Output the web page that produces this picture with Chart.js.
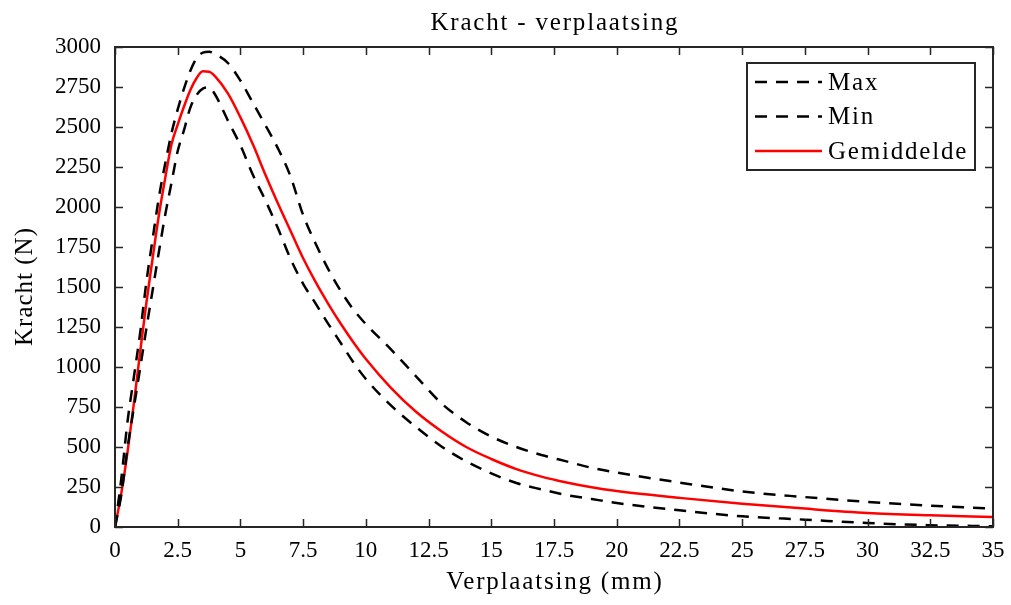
<!DOCTYPE html>
<html lang="nl">
<head>
    <meta charset="UTF-8">
    <title>Kracht - verplaatsing</title>
    <script src="https://cdn.jsdelivr.net/npm/chart.js"></script>
    <style>
        html, body { margin: 0; padding: 0; background: #fff; }
        #wrap { width: 1011px; height: 605px; }
    </style>
</head>
<body>
    <div id="wrap"><canvas id="grafiek"></canvas></div>

    <script>
// Verplaatsing (mm) en gemeten kracht (N)
const verplaatsing = [0, 0.25, 0.5, 0.75, 1, 1.25, 1.5, 1.75, 2, 2.25, 2.5, 2.75, 3, 3.25, 3.5, 3.75, 4, 4.5, 5, 5.5, 6, 6.5, 7, 7.5, 8, 8.5, 9, 9.5, 10, 11, 12, 13, 14, 15, 16, 17, 18, 19, 20, 22.5, 25, 27.5, 30, 32.5, 35];
const krachtMax = [0, 300, 660, 935, 1210, 1530, 1800, 2060, 2270, 2460, 2610, 2740, 2850, 2930, 2965, 2970, 2955, 2900, 2790, 2650, 2510, 2365, 2190, 1950, 1770, 1612, 1475, 1360, 1268, 1110, 942, 775, 655, 565, 500, 450, 410, 370, 340, 278, 222, 187, 157, 133, 115];
const krachtMin = [0, 200, 495, 745, 990, 1240, 1480, 1720, 1950, 2150, 2350, 2480, 2620, 2700, 2740, 2748, 2700, 2540, 2385, 2200, 2040, 1865, 1675, 1520, 1396, 1270, 1150, 1030, 925, 760, 625, 505, 410, 335, 275, 235, 200, 175, 150, 104, 67, 46, 25, 11, 5];
const krachtGem = [0, 210, 470, 770, 1090, 1400, 1680, 1950, 2180, 2390, 2515, 2628, 2730, 2805, 2848, 2846, 2815, 2710, 2560, 2390, 2200, 2020, 1850, 1680, 1530, 1395, 1270, 1155, 1050, 870, 720, 600, 500, 425, 362, 315, 278, 248, 225, 182, 146, 115, 88, 73, 62];

const xTicks = [0, 2.5, 5, 7.5, 10, 12.5, 15, 17.5, 20, 22.5, 25, 27.5, 30, 32.5, 35];
const yTicks = [0, 250, 500, 750, 1000, 1250, 1500, 1750, 2000, 2250, 2500, 2750, 3000];

const LETTER = '"Liberation Serif", "DejaVu Serif", serif';
const AS = '#262626';

function punten(ys) {
    return verplaatsing.map((x, i) => ({ x: x, y: ys[i] }));
}

// tekst met wat extra letterafstand
function tekst(ctx, s, x, y, px, spacing, hoek) {
    ctx.save();
    ctx.translate(x, y);
    if (hoek) ctx.rotate(hoek);
    ctx.font = px + 'px ' + LETTER;
    ctx.letterSpacing = spacing + 'px';
    ctx.fillStyle = '#000';
    ctx.textAlign = 'center';
    ctx.textBaseline = 'middle';
    ctx.fillText(s, spacing / 2, 0);
    ctx.restore();
}

// kader om het assenstelsel met naar binnen gerichte streepjes
const kaderPlugin = {
    id: 'kader',
    afterDatasetsDraw(chart) {
        const { ctx, chartArea: a, scales: { x, y } } = chart;
        ctx.save();
        ctx.strokeStyle = AS;
        ctx.lineWidth = 1.5;
        ctx.beginPath();
        x.ticks.forEach(t => {
            const px = Math.round(x.getPixelForValue(t.value)) + 0.5;
            ctx.moveTo(px, a.bottom); ctx.lineTo(px, a.bottom - 8);
            ctx.moveTo(px, a.top); ctx.lineTo(px, a.top + 8);
        });
        y.ticks.forEach(t => {
            const py = Math.round(y.getPixelForValue(t.value)) + 0.5;
            ctx.moveTo(a.left, py); ctx.lineTo(a.left + 8, py);
            ctx.moveTo(a.right, py); ctx.lineTo(a.right - 8, py);
        });
        ctx.stroke();
        ctx.lineWidth = 2;
        ctx.strokeRect(a.left, a.top, a.right - a.left, a.bottom - a.top);
        ctx.restore();
    }
};

// titel, astitels en legenda
const tekstPlugin = {
    id: 'teksten',
    afterDraw(chart) {
        const { ctx, chartArea: a } = chart;
        tekst(ctx, 'Kracht - verplaatsing', (a.left + a.right) / 2, 23, 25, 1.8);
        tekst(ctx, 'Verplaatsing (mm)', (a.left + a.right) / 2, 582, 25, 1.8);
        tekst(ctx, 'Kracht (N)', 25, (a.top + a.bottom) / 2, 25, 1, -Math.PI / 2);

        const bx = 747, by = 63, bw = 228, bh = 107;
        ctx.save();
        ctx.fillStyle = '#fff';
        ctx.fillRect(bx, by, bw, bh);
        ctx.strokeStyle = AS;
        ctx.lineWidth = 2;
        ctx.strokeRect(bx, by, bw, bh);
        ctx.font = '25px ' + LETTER;
        ctx.letterSpacing = '1.8px';
        ctx.textBaseline = 'middle';
        chart.data.datasets.forEach((ds, i) => {
            const ly = by + 19 + i * 34.5;
            ctx.beginPath();
            ctx.strokeStyle = ds.borderColor;
            ctx.lineWidth = ds.borderWidth;
            ctx.setLineDash(ds.borderDash || []);
            ctx.moveTo(bx + 8, ly);
            ctx.lineTo(bx + 75, ly);
            ctx.stroke();
            ctx.setLineDash([]);
            ctx.fillStyle = '#000';
            ctx.fillText(ds.label, bx + 81, ly + 1);
        });
        ctx.restore();
    }
};

new Chart(document.getElementById('grafiek'), {
    type: 'line',
    data: {
        datasets: [
            { label: 'Max', data: punten(krachtMax), borderColor: '#000', borderWidth: 2.5, borderDash: [12, 9] },
            { label: 'Min', data: punten(krachtMin), borderColor: '#000', borderWidth: 2.5, borderDash: [12, 9] },
            { label: 'Gemiddelde', data: punten(krachtGem), borderColor: '#ff0000', borderWidth: 2.5 }
        ]
    },
    options: {
        responsive: true,
        maintainAspectRatio: false,
        animation: false,
        layout: { padding: { left: 0, right: 18, top: 47, bottom: 0 } },
        elements: {
            point: { radius: 0 },
            line: { cubicInterpolationMode: 'monotone', fill: false }
        },
        plugins: {
            legend: { display: false },
            tooltip: { enabled: false },
            title: { display: false }
        },
        scales: {
            x: {
                type: 'linear',
                min: 0,
                max: 35,
                afterBuildTicks: s => { s.ticks = xTicks.map(v => ({ value: v })); },
                afterFit: s => { s.height = 78; },
                grid: { display: false },
                border: { display: false },
                ticks: {
                    color: '#000',
                    padding: 2,
                    maxRotation: 0,
                    font: { family: LETTER, size: 23 },
                    callback: v => String(v)
                }
            },
            y: {
                min: 0,
                max: 3000,
                afterBuildTicks: s => { s.ticks = yTicks.map(v => ({ value: v })); },
                afterFit: s => { s.width = 115; },
                grid: { display: false },
                border: { display: false },
                ticks: {
                    color: '#000',
                    padding: 6,
                    font: { family: LETTER, size: 23 },
                    callback: v => String(v)
                }
            }
        }
    },
    plugins: [kaderPlugin, tekstPlugin]
});
    </script>
</body>
</html>
